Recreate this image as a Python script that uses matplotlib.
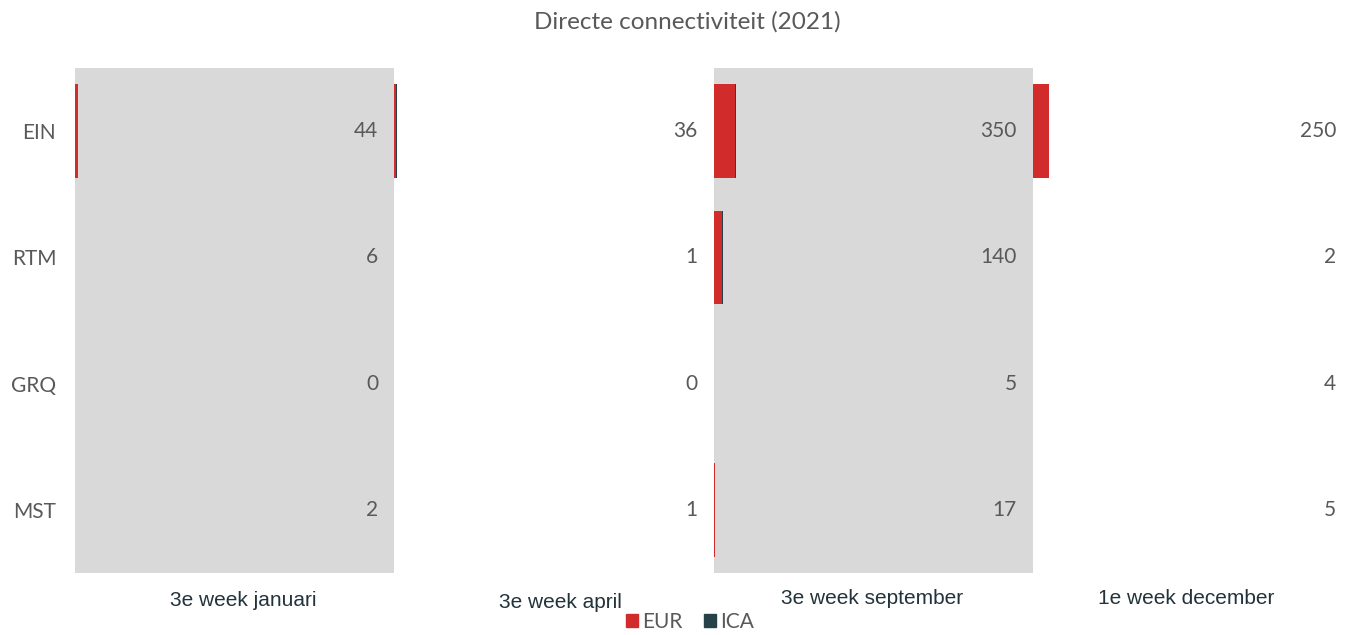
import matplotlib.pyplot as plt
from matplotlib.patches import Patch

# data
periods = ['3e week januari', '3e week april', '3e week september', '1e week december']
airports = ['EIN', 'RTM', 'GRQ', 'MST']
eur = [[44, 6, 0, 2], [33, 1, 0, 1], [330, 133, 5, 17], [250, 2, 4, 0]]
ica = [[0, 0, 0, 0], [3, 0, 0, 0], [20, 7, 0, 0], [0, 0, 0, 5]]
totals = [[44, 6, 0, 2], [36, 1, 0, 1], [350, 140, 5, 17], [250, 2, 4, 5]]

red = '#D22B2B'
dark = '#264248'
grey_bg = '#D9D9D9'
txt = '#595959'

W, H = 1351, 635
fig = plt.figure(figsize=(W / 100, H / 100), dpi=100)

left0 = 75
pw = 319.3
top, bottom = 68, 573
label_x = [243, 560, 872, 1186]
label_y = [600, 602, 599, 599]

for k, period in enumerate(periods):
    ax = fig.add_axes([(left0 + k * pw) / W, (H - bottom) / H, pw / W, (bottom - top) / H])
    ypos = range(len(airports))
    ax.barh(ypos, eur[k], height=0.74, color=red)
    ax.barh(ypos, ica[k], left=eur[k], height=0.74, color=dark)
    ax.set_xlim(0, 5000)
    ax.set_ylim(3.5, -0.5)
    if k % 2 == 0:
        ax.set_facecolor(grey_bg)
    else:
        ax.patch.set_alpha(0)
    for s in ax.spines.values():
        s.set_visible(False)
    ax.set_xticks([])
    if k == 0:
        ax.set_yticks(list(ypos))
        ax.set_yticklabels(airports, family='Lato', fontsize=15, color=txt)
        ax.tick_params(axis='y', length=0, pad=13.5)
    else:
        ax.set_yticks([])
    for i, v in enumerate(totals[k]):
        ax.annotate(str(v), xy=(1, i), xycoords=('axes fraction', 'data'),
                    xytext=(-11.5, 0), textcoords='offset points',
                    ha='right', va='center', family='Lato', fontsize=15, color=txt)
    fig.text(label_x[k] / W, 1 - label_y[k] / H, period, ha='center', va='center',
             family='Liberation Sans', fontsize=15, color='#22333B')

fig.text(687 / W, 1 - 22 / H, 'Directe connectiviteit (2021)', ha='center', va='center',
         family='Lato', fontsize=17.5, color=txt)

handles = [Patch(color=red, label='EUR'), Patch(color=dark, label='ICA')]
leg = fig.legend(handles=handles, loc='center', bbox_to_anchor=(690 / W, 1 - 622 / H),
                 ncol=2, frameon=False, handlelength=0.6, handleheight=0.6,
                 handletextpad=0.2, columnspacing=1.0, prop={'family': 'Lato', 'size': 15})
for t in leg.get_texts():
    t.set_color(txt)

plt.savefig('out.png', dpi=100)
